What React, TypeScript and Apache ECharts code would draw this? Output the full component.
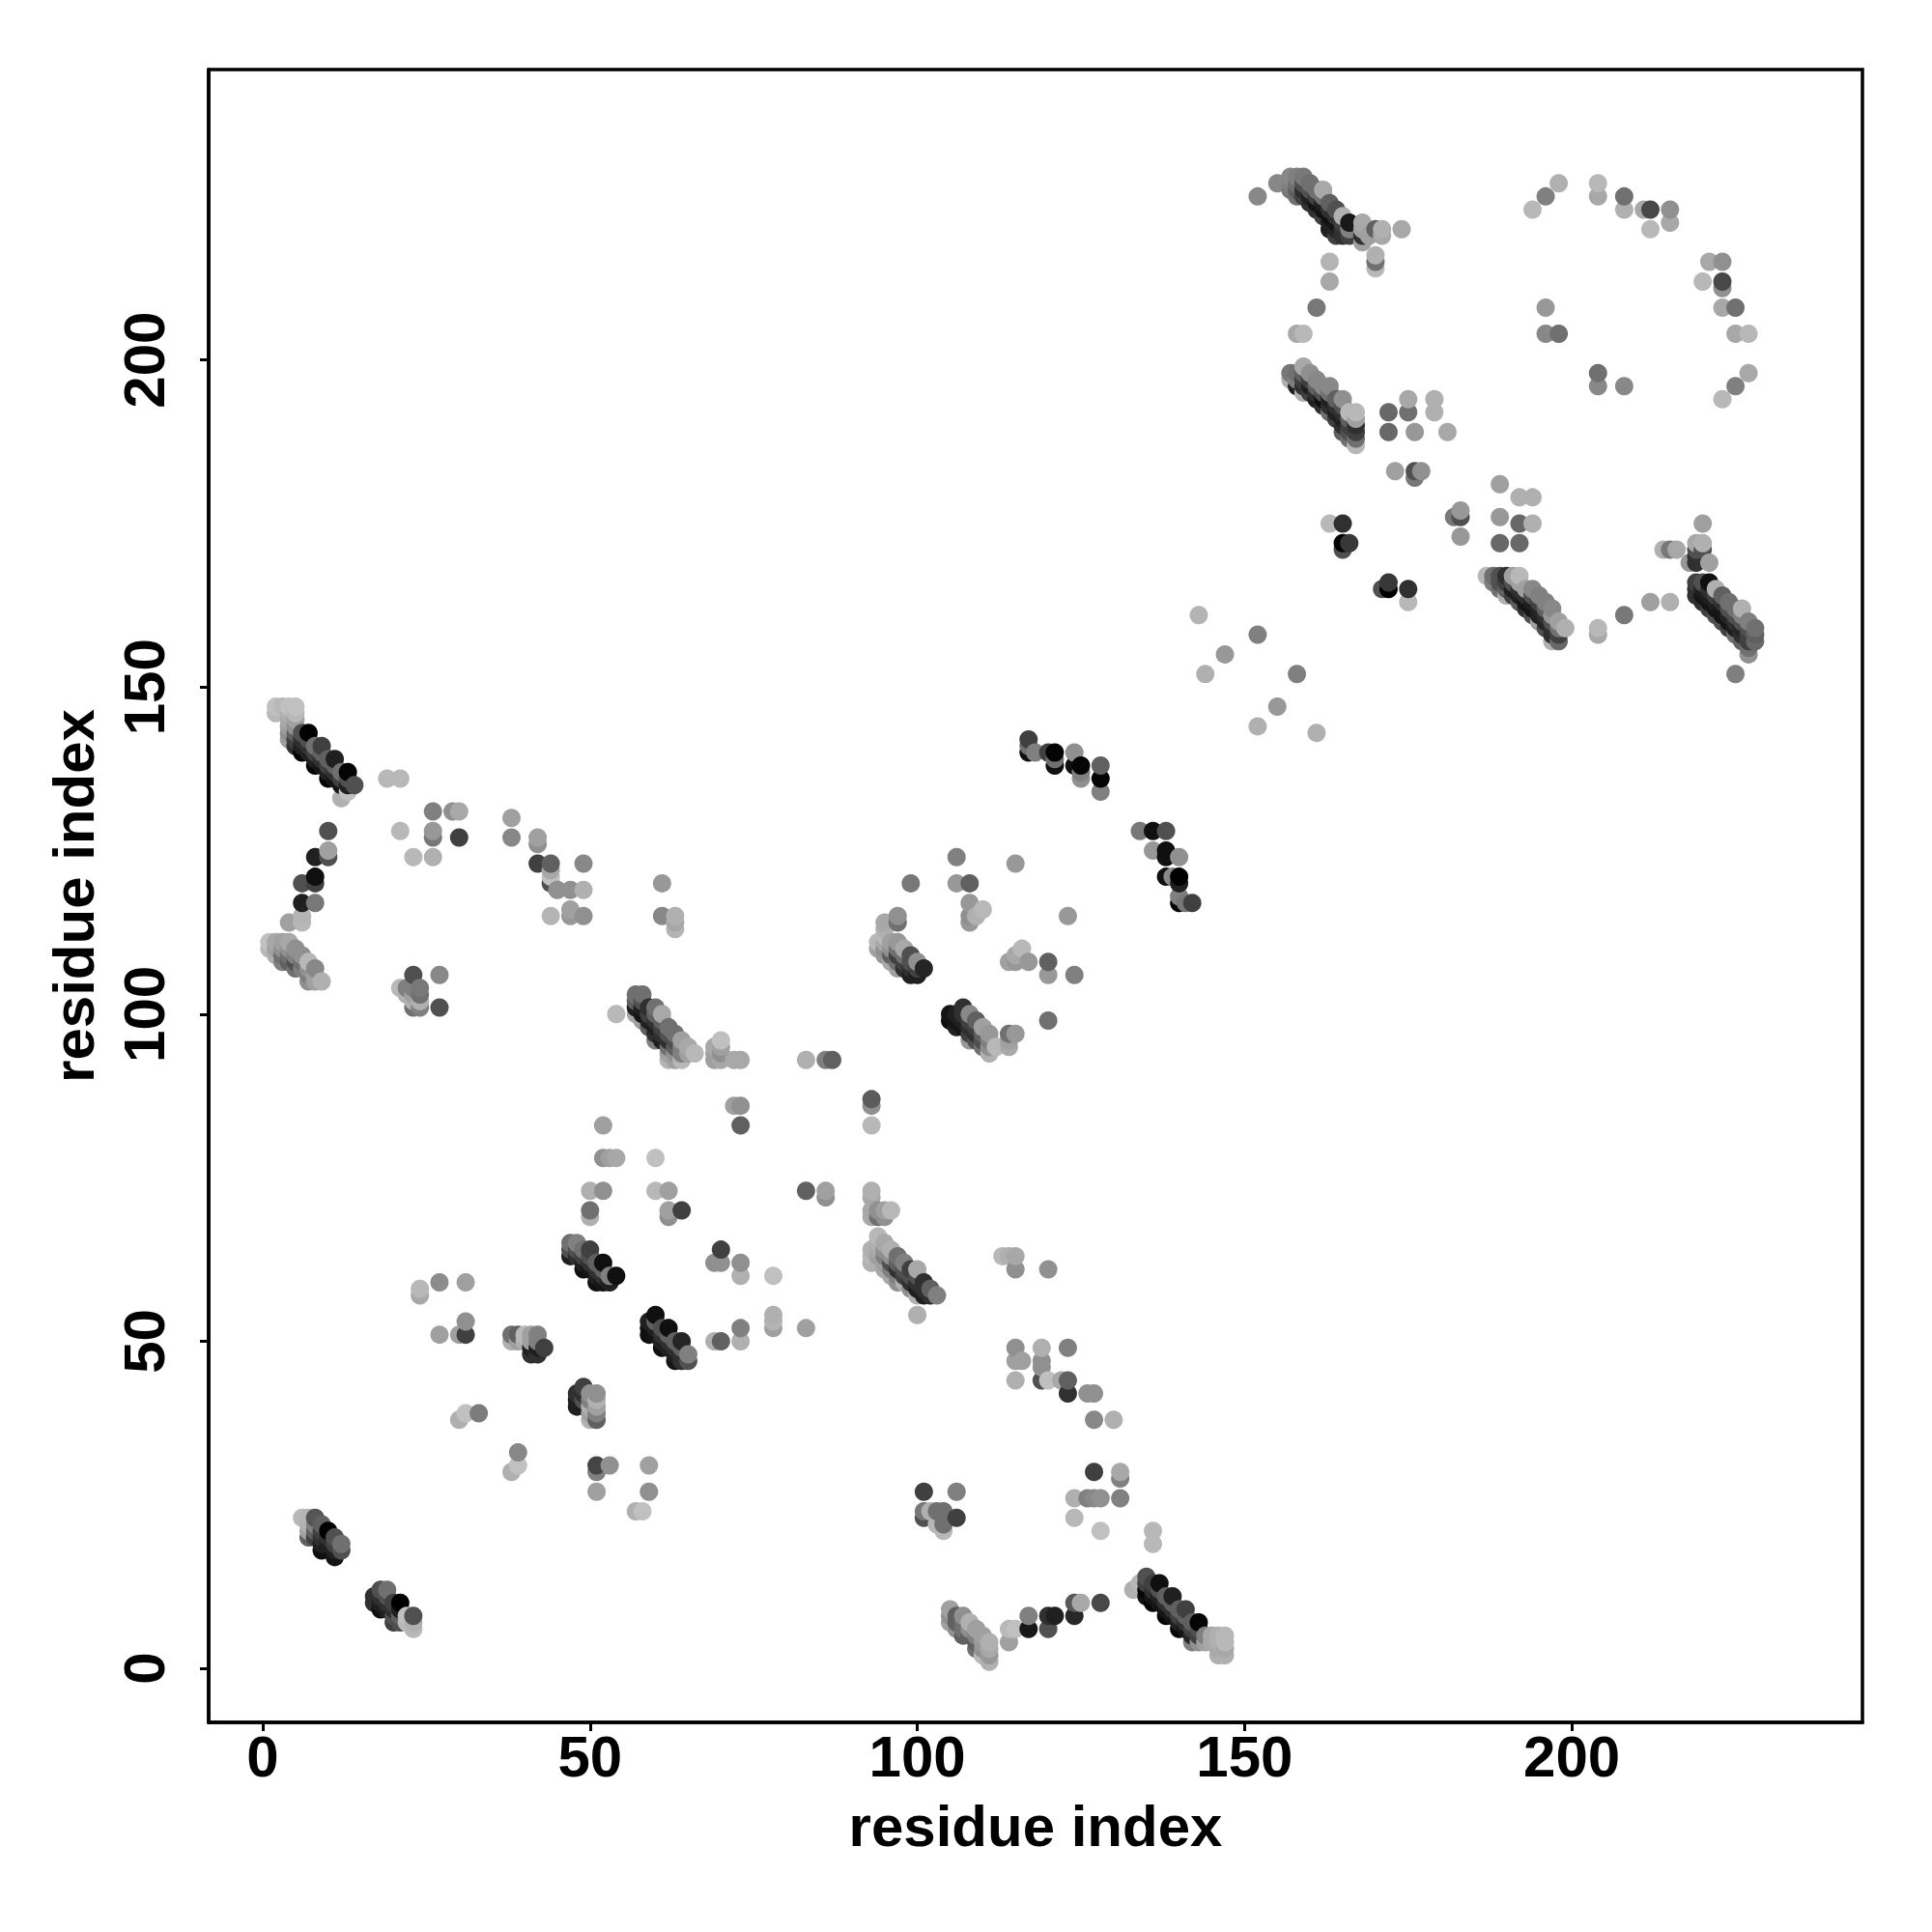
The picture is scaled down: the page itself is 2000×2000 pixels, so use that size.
import React, { useEffect, useRef } from "react";
import * as echarts from "echarts";

// Each column: [residue x, [residue y, grey level, residue y, grey level, ...]]
type Col = [number, number[]];

const xTickValues = [0, 50, 100, 150, 200];
const yTickValues = [0, 50, 100, 150, 200];
const xAxisTitle = "residue index";
const yAxisTitle = "residue index";

const strandLow: Col[] = [
  [6,[23,0xb8]],[7,[23,0xb4,22,0xb0,21,0xa0,20,0x60]],[8,[23,0x55,22,0x80,21,0x60,20,0x40]],
  [9,[22,0x60,21,0x40,20,0x30,19,0x20,18,0x10]],[10,[21,0x00,20,0x30,19,0x20]],
  [11,[20,0x50,19,0x40,18,0x20,17,0x15]],[12,[19,0x70,18,0x50]],
  [17,[11,0x30,10,0x30]],[18,[12,0x50,11,0x30,10,0x20,9,0x10]],[19,[12,0x70,11,0x50,10,0x30,9,0x20]],
  [20,[10,0x40,9,0x30,8,0x50,7,0x40]],[21,[10,0x00,9,0x20,8,0x60,7,0x50]],[22,[8,0xc0,7,0xb8]],[23,[8,0x50,7,0xb0,6,0xb8]],
];

const contactsLowLeft: Col[] = [
  [24,[58,0xb8,57,0xa8]],[27,[59,0x8c,51,0xa0]],[30,[51,0xa0,38,0xb0]],[31,[59,0xa0,53,0x90,51,0x40,39,0xc0]],[33,[39,0x7c]],
  [38,[51,0x70,50,0xb0,30,0xb0]],[39,[51,0x60,50,0xa0,33,0x88,31,0xc0]],[40,[51,0xb8,50,0xb0]],
  [41,[51,0xa0,50,0xa0,49,0x20,48,0x30]],[42,[51,0x80,50,0x80,49,0x20,48,0x30]],[43,[49,0x40]],
  [47,[65,0x70,64,0x50,63,0x20]],[48,[65,0x80,64,0x50,63,0x30,42,0x30,41,0x20,40,0x20]],
  [49,[64,0x70,63,0x40,62,0x20,61,0x10,43,0x40,42,0x30,41,0x50]],[50,[73,0xb0,70,0x70,69,0xb0,64,0x40,63,0x50,62,0x30,61,0x15,42,0x90,41,0x80,40,0xb0,39,0xa0,38,0xb0]],
  [51,[62,0x60,61,0x30,60,0x20,59,0x10,42,0x90,41,0xb0,40,0xa0,39,0x80,38,0x60,31,0x45,30,0x80,27,0xa0]],
  [52,[83,0xa0,78,0x90,73,0x90,62,0x10,61,0x60,60,0x30,59,0x15]],[53,[78,0xa0,60,0x80,59,0x20,31,0x90]],[54,[78,0xa8,60,0x10]],
  [57,[24,0xb0]],[58,[24,0xc0]],[59,[53,0x20,52,0x10,51,0x10,31,0xa0,27,0x90]],
  [60,[78,0xc0,73,0xb8,54,0x10,53,0x60,52,0x20,51,0x15]],[61,[52,0x50,51,0x30,50,0x20,49,0x10]],
  [62,[73,0xa0,70,0xa0,69,0x90,52,0x10,51,0x60,50,0x30,49,0x20]],[63,[50,0x60,49,0x30,48,0x20,47,0x15]],
  [64,[70,0x40,50,0x25,49,0x60,48,0x30,47,0x30]],[65,[48,0x80,47,0x50]],
  [69,[62,0x90,50,0xb0]],[70,[64,0x40,62,0x90,50,0x60]],[73,[62,0x90,60,0xb0,52,0x80,50,0xb0]],
  [78,[60,0xc0,54,0xb0,53,0xb4,52,0xa0]],[83,[73,0x60,52,0xa0]],[86,[73,0xa0,72,0x90]],
];

const strandFirstHairpin: Col[] = [
  [1,[111,0xc0,110,0xb8]],[2,[147,0xc0,146,0xb8,111,0xa8,110,0xa0,109,0xb0]],[3,[147,0xb8,111,0xa0,110,0x90,109,0x70,108,0x80]],
  [4,[147,0xc0,146,0xb0,145,0xa8,144,0xa0,143,0x90,142,0xa0,114,0xa0,111,0xa8,110,0x90,109,0x70,108,0x60]],
  [5,[147,0xc0,146,0xb8,145,0xa0,144,0x90,143,0x60,142,0x40,141,0x30,110,0x90,109,0x80,108,0x50,107,0x70]],
  [6,[143,0x50,142,0x30,141,0x20,140,0x05,120,0x50,117,0x20,115,0xb4,114,0xb8,109,0x90,108,0x70,107,0x80]],
  [7,[143,0x00,142,0x50,141,0x30,140,0x20,108,0xb8,107,0x90,106,0x80,105,0x90]],
  [8,[141,0x70,140,0x40,139,0x20,138,0x05,124,0x20,121,0x10,120,0x40,117,0x78,107,0x88,106,0xa0,105,0xa0]],
  [9,[141,0x40,140,0x60,139,0x30,138,0x15,105,0xb0]],[10,[139,0x60,138,0x40,137,0x20,136,0x05,128,0x50,125,0xa0,124,0x50]],
  [11,[139,0x20,138,0x60,137,0x30,136,0x15]],[12,[137,0x70,136,0x40,135,0x15,133,0xb0]],[13,[137,0x05,136,0x50,135,0x20,134,0xc0]],[14,[135,0x50]],
  [19,[136,0xb8]],[21,[136,0xb8,128,0xb8,104,0xb8]],[22,[104,0x80,103,0xb0]],[23,[124,0xb8,106,0x50,104,0x80,103,0xa0,102,0xb0,101,0x70]],
  [24,[104,0x78,103,0x70,102,0xb0,101,0x80]],[26,[131,0x80,128,0x98,127,0x78,124,0xb0]],[27,[106,0x88,101,0x50]],[29,[131,0x90]],[30,[131,0xa8,127,0x40]],
  [38,[130,0xa0,127,0x88]],[42,[127,0xa0,126,0x90,123,0x40]],[44,[123,0x60,122,0xa8,121,0xc0,120,0x50,115,0xb4]],
  [45,[119,0x90]],[47,[119,0x90,116,0xa0,115,0x98]],[49,[123,0x88,119,0xb0,115,0x90]],
  [54,[100,0xb8]],[61,[120,0x98,115,0x88]],[63,[115,0xb0,114,0xa8,113,0xb4]],
];

const strandMiddle: Col[] = [
  [57,[103,0x70,102,0x60,101,0x20,100,0xa8]],[58,[103,0x70,102,0x50,101,0x20,100,0x15,99,0xa0]],[59,[101,0x30,100,0x40,99,0x20,98,0x60]],
  [60,[101,0x70,100,0x60,99,0x30,98,0x20,97,0x30,96,0x80]],[61,[100,0xa8,99,0x60,98,0x40,97,0x30,96,0x20]],
  [62,[98,0x70,97,0x50,96,0x30,95,0x70,94,0xa0,93,0xb4]],[63,[97,0x70,96,0x50,95,0x60,94,0x90,93,0xa0]],[64,[96,0xa0,95,0x80,94,0x80,93,0xb8]],
  [65,[95,0xa8,94,0xa0]],[66,[94,0xb8]],[69,[95,0xa8,94,0xa0,93,0xa0]],[70,[96,0xc0,95,0xa0,94,0x90,93,0xa8]],[72,[93,0xa8,86,0xa0]],[73,[93,0xa8,86,0x90,83,0x60]],
  [83,[93,0xb0]],[86,[93,0x80]],[87,[93,0x60]],[93,[87,0x5c,86,0x90,83,0xb8,73,0xb0,72,0xa8,70,0xa8,69,0xa8,64,0xb0,63,0xb8,62,0xb0]],
  [94,[111,0xb8,110,0xa0,70,0x90,69,0x70,66,0xb8,65,0xb0,64,0xa8,63,0xa0,62,0xb0]],
  [95,[114,0xa8,113,0xb0,112,0xb8,111,0xa8,110,0x90,109,0x98,70,0xa0,69,0x90,65,0xa8,64,0x90,63,0x80,62,0xa0,61,0xa8]],
  [96,[111,0xa0,110,0x90,109,0x60,108,0xa8,70,0xb8,64,0xb0,63,0x90,62,0x50,61,0x80,60,0xa8]],
  [97,[115,0x90,114,0x70,111,0x98,110,0x70,109,0x40,108,0x70,107,0xa0,63,0x70,62,0x60,61,0x30,60,0x80,59,0x90]],
  [98,[110,0xa8,109,0x70,108,0x40,107,0x30,62,0x80,61,0x50,60,0x40,59,0xb0]],[99,[120,0x78,109,0x50,108,0x50,107,0x30,106,0x20,61,0x40,60,0x50,59,0x30,58,0x90]],
  [100,[108,0x90,107,0x40,106,0x20,61,0xa8,60,0x50,59,0x30,58,0x20,57,0xb0,54,0xb0]],[101,[107,0x25,59,0x30,58,0x30,57,0x20,27,0x40,24,0x78,23,0x50]],
  [102,[58,0x60,57,0x30,24,0xb0]],[103,[57,0x80,24,0x70,22,0xb8]],[104,[24,0x70,23,0x70,22,0x70,21,0xb8]],
  [105,[100,0x15,99,0x10,9,0xa0,8,0x90,7,0xa0]],[106,[124,0x80,120,0x98,100,0x20,99,0x15,98,0x20,27,0x80,23,0x40,8,0x60,7,0x60,6,0x90]],
  [107,[101,0x30,100,0x30,99,0x20,98,0x15,8,0x90,7,0x70,6,0x70,5,0x60]],[108,[120,0x60,117,0x98,115,0x90,114,0x98,100,0x88,99,0x40,98,0x30,97,0x40,96,0x98,7,0xb0,6,0x90,5,0x60]],
  [109,[115,0xb0,99,0x60,98,0x40,97,0x30,96,0x50,6,0xa0,5,0x80,4,0x60,3,0x70]],[110,[116,0xb8,98,0xa0,97,0x60,96,0x50,95,0x70,5,0xa0,4,0x98,3,0x90,2,0xb8]],
  [111,[97,0x98,96,0x80,95,0x90,94,0xb0,4,0xb0,3,0xa8,2,0x98,1,0xb0]],[112,[95,0xb8]],[113,[63,0xb8]],
];

const contactsCentre: Col[] = [
  [114,[108,0xa0,97,0x70,96,0xa0,95,0xa8,63,0xb0,6,0xb8,4,0xa0]],[115,[123,0x98,109,0xa8,108,0x98,97,0x98,63,0xa8,61,0x90,49,0x90,47,0xa0,44,0xb0,6,0xc0]],
  [116,[110,0xb8,47,0xa0]],[117,[142,0x40,141,0x70,140,0x10,108,0x98,8,0x80,6,0x18]],[118,[140,0x80]],
  [119,[49,0xb0,47,0x90,46,0x90,44,0x50]],[120,[140,0x40,108,0x60,106,0x98,99,0x70,61,0x90,44,0xc0,8,0x30,6,0x50]],
  [121,[140,0x05,139,0x70,138,0x10,8,0x20]],[122,[44,0xa8]],[123,[115,0x98,49,0x80,44,0x60,42,0x30]],
  [124,[140,0x90,138,0x10,106,0x80,26,0xb0,23,0xb8,10,0x58,8,0x28]],[125,[138,0x05,137,0x80,136,0x90,10,0xa8]],
  [126,[42,0x90,26,0x80]],[127,[42,0x90,38,0x88,30,0x40,26,0x88]],[128,[138,0x60,136,0x05,134,0x80,26,0x90,21,0xc0,10,0x48]],
  [130,[38,0xb0]],[131,[30,0xa8,29,0x80,26,0x80]],[133,[12,0xb0]],[134,[128,0x78,13,0xb8]],
  [135,[14,0x50,13,0x40,12,0x05,11,0x10]],[136,[128,0x10,125,0x98,21,0xb8,19,0xb8,13,0x40,12,0x30,11,0x15,10,0x05]],
  [137,[13,0x10,12,0x50,11,0x20,10,0x15]],[138,[128,0x50,125,0x10,124,0x10,121,0x10,11,0x60,10,0x30,9,0x15,8,0x05]],
  [139,[121,0x88,11,0x20,10,0x60,9,0x30,8,0x15]],[140,[124,0x90,121,0x00,120,0x20,118,0x80,117,0x05,9,0x60,8,0x40,7,0x20,6,0x05]],
  [141,[117,0x78,9,0x40,8,0x60,7,0x30,6,0x15]],[142,[117,0x40,7,0x60,6,0x40,5,0x25,4,0x80]],[143,[161,0xb4,7,0x05,6,0x50,5,0x40,4,0x90]],
  [144,[152,0xb0,5,0x80,4,0xa0]],[145,[5,0xa8,4,0xa8]],[146,[5,0xb0,4,0xb0,3,0xa8,2,0xb0]],[147,[155,0x98,5,0xb8,4,0xb8,3,0xa8,2,0xb0]],
  [152,[225,0x88,158,0x80,144,0xb0]],[155,[227,0x88,147,0x98]],[158,[152,0x80]],[161,[143,0xb0]],
];

const strandUpperLeft: Col[] = [
  [157,[228,0x88,227,0x80,226,0x78,198,0x78,197,0xb0]],[158,[228,0x80,227,0x70,226,0x60,225,0x70,204,0xa8,198,0x70,197,0x80,196,0x20]],
  [159,[228,0x78,227,0x50,226,0x30,225,0x40,204,0xb8,199,0xa8,198,0x60,197,0x40,196,0x30,195,0xb0]],[160,[227,0x70,226,0x50,225,0x20,224,0x30,198,0x90,197,0x40,196,0x20,195,0x40]],
  [161,[226,0x70,225,0x40,224,0x15,223,0x30,208,0x78,197,0x88,196,0x60,195,0x30,194,0x20]],[162,[226,0xa8,225,0x70,224,0x20,223,0x15,222,0x40,196,0x88,195,0x50,194,0x10,193,0x30]],
  [163,[224,0x60,223,0x30,222,0x10,221,0x20,220,0x20,215,0xb4,212,0xa8,196,0x88,195,0x70,194,0x20,193,0x30,192,0x70,175,0xb8]],
  [164,[223,0x50,222,0x30,221,0x15,220,0x25,219,0x40,194,0x60,193,0x30,192,0x20,191,0x40]],
  [165,[222,0xb0,221,0x40,220,0x30,219,0x30,194,0x90,193,0x50,192,0x30,191,0x20,190,0x30,189,0x60,175,0x30,172,0x05,171,0x50]],
  [166,[221,0x18,220,0x80,219,0x40,192,0xb8,191,0x60,190,0x40,189,0x50,188,0x70,172,0x38]],
  [167,[192,0xb8,191,0xa0,190,0x30,189,0x40,188,0x70,187,0xb8]],[168,[221,0xa8,220,0xa0,219,0x30,218,0xa0]],[169,[219,0xa0]],
  [170,[220,0x60,216,0xb0,215,0x70,214,0xb8]],[171,[220,0xb0,219,0xa8,165,0x50]],[172,[192,0x68,189,0x68,166,0x38,165,0x00]],
  [173,[183,0xa0]],[174,[220,0xa8]],[175,[194,0xa8,192,0x70,165,0x30,163,0xb8]],[176,[189,0x98,183,0x50,182,0x78]],[177,[183,0x90]],
  [179,[194,0xb0,192,0xb0]],[181,[189,0xa8]],[182,[176,0x78]],[183,[177,0x98,176,0x50,173,0x98]],
];

const strandUpperRight: Col[] = [
  [187,[167,0xb8]],[188,[167,0x70,166,0x80]],[189,[181,0xa0,176,0x98,172,0x68,167,0x50,166,0x50,165,0x70]],[190,[167,0x30,166,0x40,165,0x60,164,0xb0]],
  [191,[167,0xa0,166,0x50,165,0x20,164,0x40]],[192,[179,0xb0,175,0x68,172,0x68,167,0xb8,166,0xa0,165,0x30,164,0x20,163,0x60]],
  [193,[165,0xa0,164,0x30,163,0x15,162,0x30]],[194,[223,0xb8,179,0xb0,175,0xb0,165,0x88,164,0x50,163,0x20,162,0x15,161,0x50]],
  [195,[164,0x80,163,0x40,162,0x25,161,0x20,160,0xa0]],[196,[225,0x80,208,0x98,204,0x88,163,0x80,162,0x60,161,0x30,160,0x25,159,0x50]],
  [197,[162,0x88,161,0x98,160,0x50,159,0x30,158,0x30,157,0xb0]],[198,[227,0xb0,204,0x70,160,0xa0,159,0x70,158,0x40,157,0x68]],[199,[159,0xb0]],
  [204,[227,0xb8,225,0xa8,198,0x70,196,0x88,159,0xb8,158,0xa8]],[208,[225,0x70,223,0xb0,196,0x88,161,0x78]],[211,[223,0xa8]],
  [212,[223,0x48,220,0xb8,163,0xa0]],[214,[171,0xb0]],[215,[223,0x90,221,0xa8,171,0x78,163,0xb0]],[216,[171,0xa8]],[218,[169,0x98]],
  [219,[172,0xa8,171,0x50,170,0x30,169,0x30,166,0x40,165,0x30,164,0x30]],[220,[212,0xb8,175,0xa0,172,0xb0,171,0x50,166,0x50,165,0x20,164,0x15,163,0x30]],
  [221,[215,0xa8,169,0xa0,166,0x10,165,0x30,164,0x20,163,0x15,162,0x40]],[222,[165,0xb0,164,0x40,163,0x20,162,0x15,161,0x50]],
  [223,[215,0x90,212,0x48,211,0x90,208,0xa8,194,0xb8,164,0x60,163,0x30,162,0x15,161,0x15,160,0x50]],[224,[163,0x70,162,0x50,161,0x25,160,0x15,159,0x40]],
  [225,[208,0x70,204,0xa8,196,0x80,162,0x70,161,0x50,160,0x30,159,0x20,158,0x70,152,0x80]],[226,[162,0xb0,161,0x80,160,0x50,159,0x25,158,0x30,157,0x60]],
  [227,[204,0xb8,198,0xa8,160,0x80,159,0x50,158,0x40,157,0x40,156,0x70,155,0x90]],[228,[159,0x70,158,0x60,157,0x68]],
];

const allColumns: Col[] = [
  ...strandLow, ...contactsLowLeft, ...strandFirstHairpin, ...strandMiddle,
  ...contactsCentre, ...strandUpperLeft, ...strandUpperRight,
];

function buildPoints(): number[][] {
  const pts: number[][] = [];
  for (const [x, list] of allColumns) {
    for (let i = 0; i < list.length; i += 2) pts.push([x, list[i], list[i + 1]]);
  }
  // later residues paint over earlier ones
  pts.sort((a, b) => a[0] - b[0] || a[1] - b[1]);
  return pts;
}

export default function App() {
  const ref = useRef<HTMLDivElement>(null);
  useEffect(() => {
    const chart = echarts.init(ref.current!, undefined, { renderer: "svg" });
    const font = "'Liberation Sans', Arial, sans-serif";
    const axisCommon = {
      type: "value" as const,
      min: -8.27,
      max: 244.4,
      nameLocation: "middle" as const,
      nameTextStyle: { fontFamily: font, fontWeight: "bold" as const, fontSize: 60, color: "#000" },
      nameMoveOverlap: false,
      axisLine: { show: true, onZero: false, lineStyle: { color: "#000", width: 3.5 } },
      axisTick: { show: true, length: 9, inside: false, lineStyle: { color: "#000", width: 3 } },
      splitLine: { show: false },
    };
    chart.setOption({
      animation: false,
      backgroundColor: "#fff",
      grid: {
        left: 216, right: 72, top: 72, bottom: 217,
        show: true, borderColor: "#000", borderWidth: 3.5, backgroundColor: "#fff",
      },
      xAxis: {
        ...axisCommon,
        name: xAxisTitle,
        nameGap: 77,
        axisTick: { ...axisCommon.axisTick, customValues: xTickValues },
        axisLabel: {
          customValues: xTickValues, margin: 5, fontFamily: font, fontWeight: "bold", fontSize: 60, color: "#000",
        },
      },
      yAxis: {
        ...axisCommon,
        name: yAxisTitle,
        nameGap: 110,
        axisTick: { ...axisCommon.axisTick, customValues: yTickValues },
        axisLabel: {
          customValues: yTickValues, rotate: 90, margin: 67, fontFamily: font, fontWeight: "bold", fontSize: 60, color: "#000",
          align: "center", verticalAlign: "middle",
        },
      },
      series: [{
        type: "scatter",
        symbol: "circle",
        symbolSize: 19,
        data: buildPoints(),
        encode: { x: 0, y: 1 },
        itemStyle: {
          opacity: 1,
          color: (p: any) => { const g = p.data[2]; return `rgb(${g},${g},${g})`; },
        },
      }],
    });
    return () => chart.dispose();
  }, []);
  return <div ref={ref} style={{ position: "absolute", left: 0, top: 0, width: 2000, height: 2000 }} />;
}
